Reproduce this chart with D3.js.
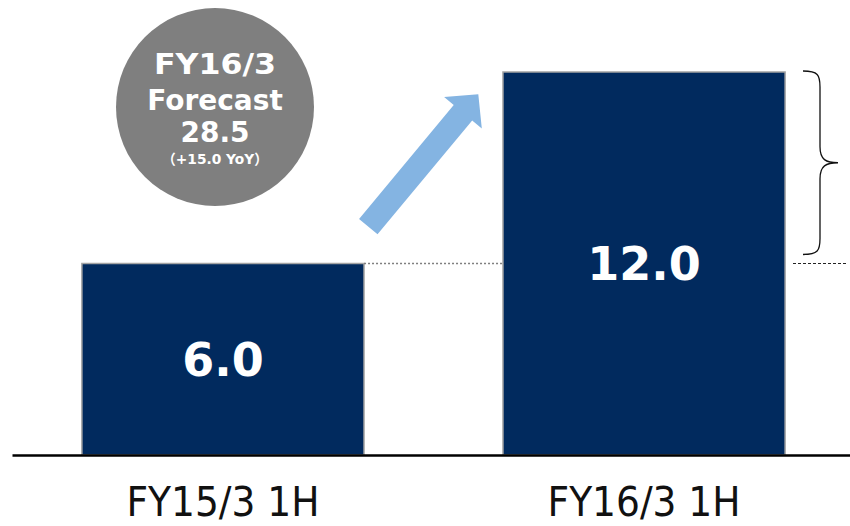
<!DOCTYPE html>
<html>
<head>
<meta charset="utf-8" />
<title>FY16/3 1H</title>
<script src="https://cdn.jsdelivr.net/npm/d3@7"></script>
<style>
  body { margin: 0; background: #fff; }
  svg { display: block; }
  .axis path { stroke: #000; stroke-width: 2.5px; }
  .axis text { font-family: "DejaVu Sans Condensed", "DejaVu Sans", sans-serif; font-stretch: condensed; fill: #111; }
  .val { font-family: "DejaVu Sans", Verdana, sans-serif; font-weight: bold; fill: #fff; }
  .bubble text { font-family: "DejaVu Sans", "Noto Sans CJK JP", sans-serif; font-weight: bold; fill: #fff; text-anchor: middle; }
  .bubble .cjk { font-family: "Noto Sans CJK JP", sans-serif; }
</style>
</head>
<body>
<svg id="chart"></svg>
<script>
// data
var categories = ["FY15/3 1H", "FY16/3 1H"];
var values = [6.0, 12.0];
var forecastLines = ["FY16/3", "Forecast", "28.5", "（+15.0 YoY）"];

var width = 850, height = 526;

var svg = d3.select("#chart")
  .attr("width", width)
  .attr("height", height);

var x = d3.scaleBand()
  .domain(categories)
  .range([12, 855])
  .paddingInner(0.33)
  .paddingOuter(0.166);

var y = d3.scaleLinear()
  .domain([0, 12])
  .range([455, 72]);

// bars
svg.append("g")
  .selectAll("rect")
  .data(values)
  .enter().append("rect")
  .attr("x", function(d, i) { return x(categories[i]); })
  .attr("y", function(d) { return y(d); })
  .attr("width", x.bandwidth())
  .attr("height", function(d) { return y(0) - y(d); })
  .attr("fill", "#012a5e")
  .attr("stroke", "#a3a3a3")
  .attr("stroke-width", 1.5);

// value labels
var valSize = 46;
svg.append("g")
  .selectAll("text")
  .data(values)
  .enter().append("text")
  .attr("class", "val")
  .attr("x", function(d, i) { return x(categories[i]) + x.bandwidth() / 2; })
  .attr("y", function(d) { return (y(d) + y(0)) / 2 + valSize * 0.729 / 2; })
  .attr("text-anchor", "middle")
  .attr("font-size", valSize)
  .text(function(d) { return d.toFixed(1); });

// dotted guide between the bars
var prevTop = y(values[0]);
svg.append("line")
  .attr("x1", x(categories[0]) + x.bandwidth())
  .attr("x2", x(categories[1]))
  .attr("y1", prevTop).attr("y2", prevTop)
  .attr("stroke", "#7f7f7f")
  .attr("stroke-width", 1.5)
  .attr("stroke-dasharray", "2,2");

svg.append("line")
  .attr("x1", 793).attr("x2", 848)
  .attr("y1", prevTop).attr("y2", prevTop)
  .attr("stroke", "#222")
  .attr("stroke-width", 1)
  .attr("stroke-dasharray", "3,2");

// brace showing the increase
var bTop = y(values[1]) - 1, bBot = prevTop - 9, bMid = (bTop + bBot) / 2;
var bx0 = 803, bx1 = 820, bx2 = 838;
var brace = d3.path();
brace.moveTo(bx0, bTop);
brace.bezierCurveTo(bx1 - 2, bTop, bx1, bTop + 4, bx1, bTop + 16);
brace.lineTo(bx1, bMid - 16);
brace.bezierCurveTo(bx1, bMid - 3, bx1 + 6, bMid, bx2, bMid);
brace.bezierCurveTo(bx1 + 6, bMid, bx1, bMid + 3, bx1, bMid + 16);
brace.lineTo(bx1, bBot - 16);
brace.bezierCurveTo(bx1, bBot - 4, bx1 - 2, bBot, bx0, bBot);
svg.append("path")
  .attr("d", brace.toString())
  .attr("fill", "none")
  .attr("stroke", "#111")
  .attr("stroke-width", 1.3);

// arrow
var tail = [368.3, 226.7], tip = [478.3, 94.3];
var ang = Math.atan2(tip[1] - tail[1], tip[0] - tail[0]) * 180 / Math.PI;
var len = Math.hypot(tip[0] - tail[0], tip[1] - tail[1]);
var shaftW = 24, headW = 49, headL = 24;
var arrowPts = [
  [0, -shaftW / 2], [len - headL, -shaftW / 2], [len - headL, -headW / 2],
  [len, 0],
  [len - headL, headW / 2], [len - headL, shaftW / 2], [0, shaftW / 2]
];
svg.append("path")
  .attr("d", d3.line()(arrowPts) + "Z")
  .attr("transform", "translate(" + tail[0] + "," + tail[1] + ") rotate(" + ang + ")")
  .attr("fill", "#84b4e2");

// axis
var axis = svg.append("g")
  .attr("class", "axis")
  .attr("transform", "translate(0," + y(0) + ")")
  .call(d3.axisBottom(x).tickSize(0).tickSizeOuter(0).tickPadding(32));
axis.selectAll("text")
  .attr("font-size", 41)
  .attr("textLength", 193)
  .attr("lengthAdjust", "spacingAndGlyphs");

// forecast bubble
var bubble = svg.append("g").attr("class", "bubble");
bubble.append("circle")
  .attr("cx", 215).attr("cy", 107).attr("r", 99)
  .attr("fill", "#7f7f7f");
var lineY = [74, 110, 142, 164];
var lineSize = [28, 28, 28, 14];
var lineLen = [122, null, null, 106];
bubble.selectAll("text")
  .data(forecastLines)
  .enter().append("text")
  .attr("x", 215)
  .attr("y", function(d, i) { return lineY[i]; })
  .attr("font-size", function(d, i) { return lineSize[i]; })
  .attr("textLength", function(d, i) { return lineLen[i]; })
  .attr("lengthAdjust", "spacingAndGlyphs")
  .each(function(d) {
    // full-width brackets come from the CJK font
    var t = d3.select(this);
    d.split(/([（）])/).filter(function(s) { return s.length; }).forEach(function(s) {
      t.append("tspan")
        .attr("class", /[（）]/.test(s) ? "cjk" : null)
        .text(s);
    });
  });
</script>
</body>
</html>
